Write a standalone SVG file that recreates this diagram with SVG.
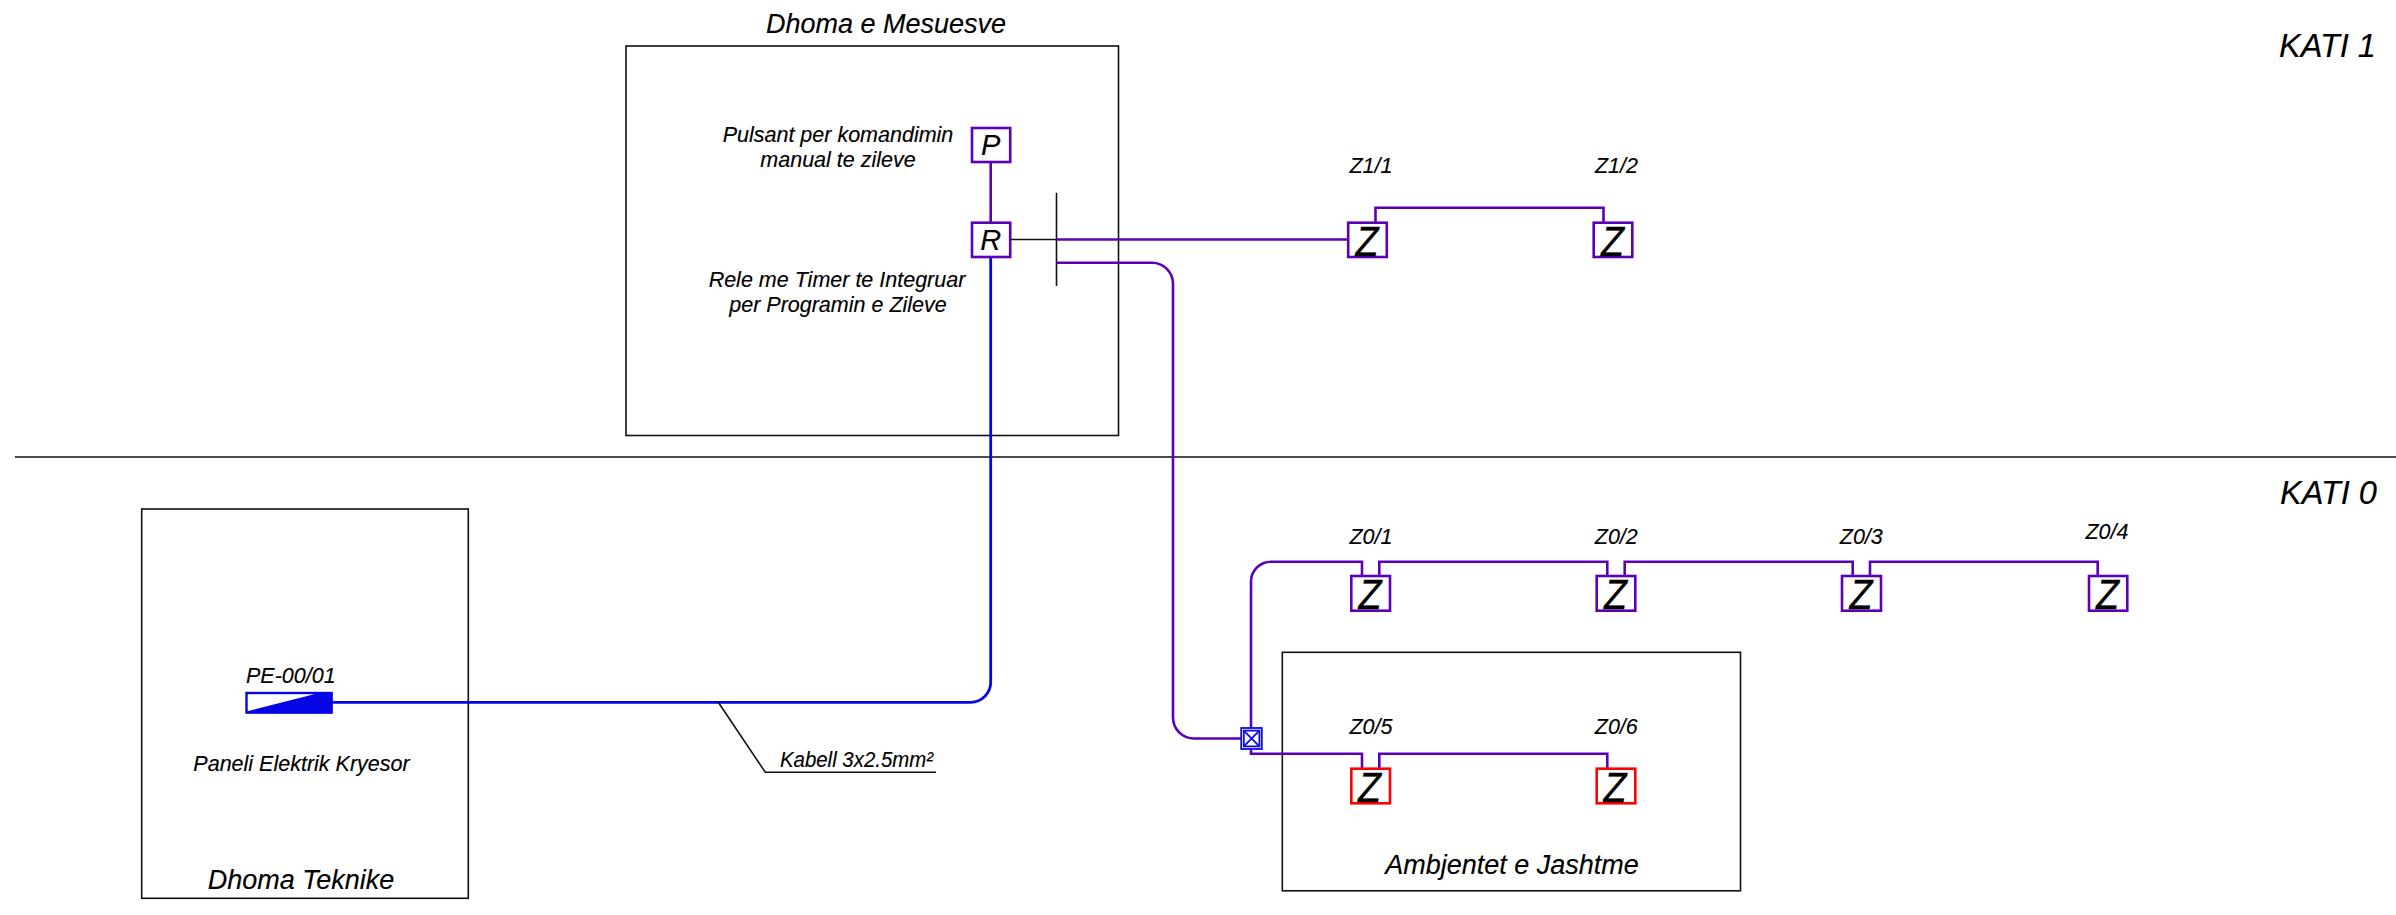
<svg xmlns="http://www.w3.org/2000/svg" width="2396" height="915" viewBox="0 0 2396 915">
<style>
text{font-family:"Liberation Sans",Arial,sans-serif;font-style:italic;fill:#000;stroke:#000;stroke-width:.15px}
.m{text-anchor:middle}
.s{font-size:21.5px}
.l{font-size:27px}
.k{font-size:32.500px}
.g{font-size:29px}
.z{font-size:42px;stroke-width:.3px}
.room{fill:none;stroke:#111;stroke-width:1.6}
.thin{fill:none;stroke:#111;stroke-width:1.6}
.pw{fill:none;stroke:#5c00b8;stroke-width:2.6}
.bw{fill:none;stroke:#0505e6;stroke-width:2.8}
.pb{fill:#fff;stroke:#5c00b8;stroke-width:2.6}
.rb{fill:#fff;stroke:#f00;stroke-width:2.6}
</style>
<rect width="2396" height="915" fill="#fff"/>
<g id="rooms">
<g id="room-mesuesve"><rect class="room" x="626" y="46" width="492.500" height="389.500"/><text class="l m" x="886" y="32.500">Dhoma e Mesuesve</text></g>
<g id="room-teknike"><rect class="room" x="141.700" y="509" width="326.600" height="389.300"/><text class="l m" x="301" y="889">Dhoma Teknike</text></g>
<g id="room-jashtme"><rect class="room" x="1282.300" y="652.300" width="458.200" height="238.500"/><text class="l m" x="1512" y="874">Ambjentet e Jashtme</text></g>
</g>
<g id="floors">
<line class="thin" x1="15" y1="457" x2="2396" y2="457"/>
<text class="k" x="2279" y="57">KATI 1</text>
<text class="k" x="2280" y="503.500">KATI 0</text>
</g>
<g id="connectors">
<path class="pw" d="M990.700 162V223"/>
<path class="bw" d="M990.700 257V682a20 20 0 0 1-20 20.300H332"/>
<path class="thin" d="M1010 239.500H1056.500M1056.500 192.700V286M718.300 702.300L765.300 772.300H936"/>
<path class="pw" d="M1056.500 239.500H1348"/>
<path class="pw" d="M1056.500 262.700H1152a21 21 0 0 1 21 21V717.500a21 21 0 0 0 21 21H1241"/>
<path class="pw" d="M1375.500 222.700V207.700H1603.500V222.700"/>
<path class="pw" d="M1251 728V582a20 20 0 0 1 20-20.300H1362V576M1379.300 576V561.700H1607.300V576M1624.700 576V561.700H1852.700V576M1870 576V561.700H2097.700V576"/>
<path class="pw" d="M1251 749V753.700H1362V768.700M1379.300 768.700V753.700H1607.300V768.700"/>
</g>
<g id="node-panel">
<rect x="246.500" y="693" width="85" height="19.500" fill="#fff" stroke="#0505e6" stroke-width="2.4"/>
<path d="M246.500 712.500L323 693H331.500V712.500Z" fill="#0505e6" stroke="#0505e6" stroke-width="2"/>
<text class="s" x="246" y="682.500">PE-00/01</text>
<text class="s m" x="301.500" y="770.500">Paneli Elektrik Kryesor</text>
</g>
<g id="label-cable"><text class="s" x="780" y="767" textLength="153" lengthAdjust="spacingAndGlyphs">Kabell 3x2.5mm²</text></g>
<g id="node-p">
<rect class="pb" x="972" y="128" width="38.200" height="34"/>
<text class="g m" x="990.700" y="155">P</text>
<text class="s m" x="838" y="141.700">Pulsant per komandimin</text>
<text class="s m" x="838" y="166.700">manual te zileve</text>
</g>
<g id="node-r">
<rect class="pb" x="972" y="222.700" width="38.200" height="34.300"/>
<text class="g m" x="990.700" y="250">R</text>
<text class="s m" x="837" y="286.700">Rele me Timer te Integruar</text>
<text class="s m" x="838" y="312">per Programin e Zileve</text>
</g>
<g id="node-z1-1"><rect class="pb" x="1348.200" y="222.700" width="38.600" height="34.300"/><text class="z m" x="1367" y="255.700" textLength="23" lengthAdjust="spacingAndGlyphs">Z</text><text class="s m" x="1371" y="172.700">Z1/1</text></g>
<g id="node-z1-2"><rect class="pb" x="1593.700" y="222.700" width="38.600" height="34.300"/><text class="z m" x="1612.500" y="255.700" textLength="23" lengthAdjust="spacingAndGlyphs">Z</text><text class="s m" x="1616.500" y="172.700">Z1/2</text></g>
<g id="node-z0-1"><rect class="pb" x="1351.300" y="576" width="38.700" height="34.700"/><text class="z m" x="1370" y="608.700" textLength="23" lengthAdjust="spacingAndGlyphs">Z</text><text class="s m" x="1371" y="544">Z0/1</text></g>
<g id="node-z0-2"><rect class="pb" x="1596.700" y="576" width="38.600" height="34.700"/><text class="z m" x="1615.500" y="608.700" textLength="23" lengthAdjust="spacingAndGlyphs">Z</text><text class="s m" x="1616.300" y="544">Z0/2</text></g>
<g id="node-z0-3"><rect class="pb" x="1842" y="576" width="39" height="34.700"/><text class="z m" x="1861" y="608.700" textLength="23" lengthAdjust="spacingAndGlyphs">Z</text><text class="s m" x="1861.300" y="544">Z0/3</text></g>
<g id="node-z0-4"><rect class="pb" x="2089" y="576" width="38.300" height="34.700"/><text class="z m" x="2107.500" y="608.700" textLength="23" lengthAdjust="spacingAndGlyphs">Z</text><text class="s m" x="2107" y="539.300">Z0/4</text></g>
<g id="node-z0-5"><rect class="rb" x="1351.300" y="768.700" width="38.700" height="34.600"/><text class="z m" x="1369.500" y="801.700" textLength="23" lengthAdjust="spacingAndGlyphs">Z</text><text class="s m" x="1371" y="734">Z0/5</text></g>
<g id="node-z0-6"><rect class="rb" x="1596.700" y="768.700" width="38.600" height="34.600"/><text class="z m" x="1615" y="801.700" textLength="23" lengthAdjust="spacingAndGlyphs">Z</text><text class="s m" x="1616.300" y="734">Z0/6</text></g>
<g id="node-junction" fill="none" stroke="#0a0af0" stroke-width="1.800">
<rect x="1241.200" y="728" width="20.600" height="21"/>
<rect x="1243.800" y="730.600" width="15.600" height="15.800"/>
<path d="M1243.800 730.600L1259.400 746.400M1259.400 730.600L1243.800 746.400"/>
</g>
</svg>
